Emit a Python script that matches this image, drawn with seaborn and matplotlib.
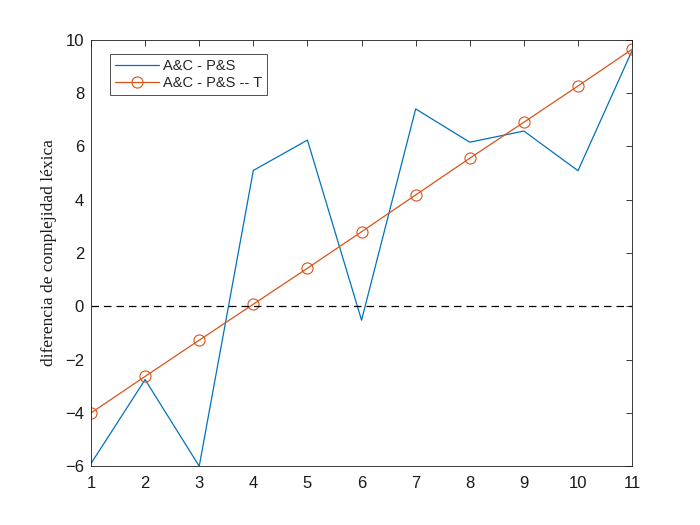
import numpy as np
import pandas as pd
import seaborn as sns
import matplotlib.pyplot as plt

sns.set_style("white")
plt.rcParams['font.family'] = ['Liberation Sans', 'DejaVu Sans']

# values
x = [1, 2, 3, 4, 5, 6, 7, 8, 9, 10, 11]
diff = [-5.9, -2.75, -6.0, 5.1, 6.24, -0.52, 7.41, 6.16, 6.58, 5.09, 9.6]
trend = [-4.0, -2.63, -1.27, 0.08, 1.43, 2.8, 4.18, 5.56, 6.91, 8.27, 9.65]

df = pd.DataFrame({'x': x, 'diff': diff, 'trend': trend})

blue = '#0072BD'
orange = '#D95319'

fig = plt.figure(figsize=(7, 5.25), dpi=100)
ax = fig.add_axes([0.13, 0.112, 0.773, 0.812])

sns.lineplot(data=df, x='x', y='diff', ax=ax, color=blue, lw=0.9,
             label='A&C - P&S')
sns.lineplot(data=df, x='x', y='trend', ax=ax, color=orange, lw=0.9,
             marker='o', markersize=8, markerfacecolor='none',
             markeredgecolor=orange, markeredgewidth=0.8,
             label='A&C - P&S -- T')
ax.axhline(0, color='black', ls=(0, (6, 4)), lw=0.9)

ax.set_xlim(1, 11)
ax.set_ylim(-6, 10)
ax.set_xticks(range(1, 12))
ax.set_yticks(range(-6, 11, 2))
ax.tick_params(direction='in', length=4, width=0.6, top=True, right=True,
               labelsize=12, colors='#1a1a1a')
ax.tick_params(axis='x', pad=7)
ax.tick_params(axis='y', pad=5)
for s in ax.spines.values():
    s.set_linewidth(0.6)
    s.set_color('#1a1a1a')

ax.set_xlabel('')
ax.set_ylabel('diferencia de complejidad léxica', family=['Liberation Serif', 'DejaVu Serif'],
              fontsize=12.5, labelpad=6, color='#1a1a1a')

leg = ax.legend(loc='upper left', bbox_to_anchor=(0.03, 0.973), fontsize=10.5,
                frameon=True, fancybox=False, borderpad=0.35, handlelength=3.0,
                handletextpad=0.25, labelspacing=0.15, borderaxespad=0.2)
leg.get_frame().set_edgecolor('black')
leg.get_frame().set_linewidth(0.6)

fig.savefig('out.png', dpi=100)
